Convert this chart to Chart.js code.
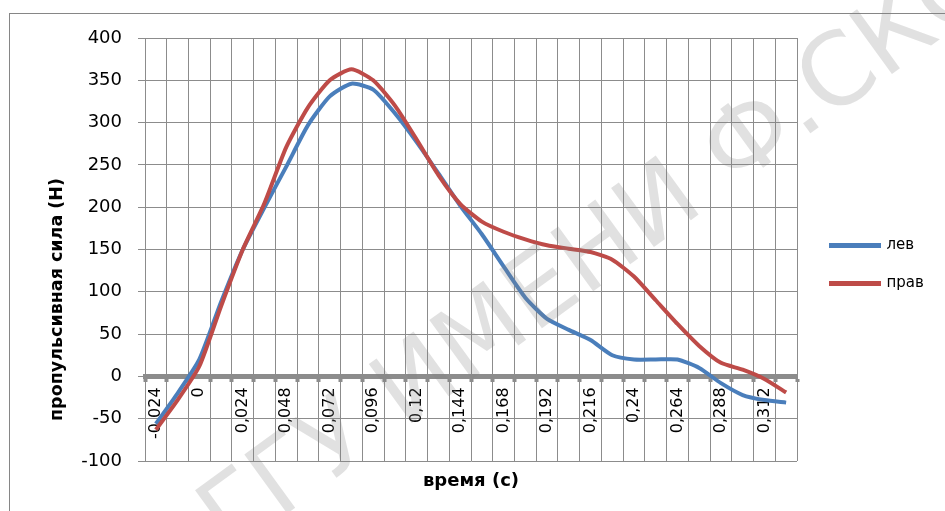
<!DOCTYPE html>
<html><head><meta charset="utf-8">
<script src="https://cdn.jsdelivr.net/npm/chart.js@4"></script>
<style>html,body{margin:0;padding:0;background:#fff}canvas{display:block}</style>
</head><body>
<canvas id="c" width="945" height="511"></canvas>
<script>
// ---- data ----
const categories = ["-0,024","-0,012","0","0,012","0,024","0,036","0,048","0,06","0,072","0,084",
  "0,096","0,108","0,12","0,132","0,144","0,156","0,168","0,18","0,192","0,204",
  "0,216","0,228","0,24","0,252","0,264","0,276","0,288","0,3","0,312","0,324"];
const levValues = [-56,-20,20,88,150,200,248,297,331,346,
  339,311,277,240,202,168,130,93,68,55,
  43,25,20,20,20,10,-8,-22,-28,-31];
const pravValues = [-63,-28,12,83,150,205,271,318,350,363,
  350,320,280,238,204,183,171,162,155,151,
  147,138,118,90,62,36,16,8,-3,-19];
const seriesNames = ["лев","прав"];
const yMin = -100, yMax = 400, yStep = 50;
const xTitle = "время (с)";
const yTitle = "пропульсивная сила (Н)";
const watermark = "ГГУ ИМЕНИ Ф.СКОРИНЫ";

const gridGray = '#8c8c8c';

const framePlugin = {
  id: 'frame',
  beforeDraw(chart) {
    const ctx = chart.ctx;
    ctx.save();
    ctx.fillStyle = '#fff';
    ctx.fillRect(0, 0, chart.width, chart.height);
    ctx.strokeStyle = '#868686';
    ctx.lineWidth = 1;
    ctx.strokeRect(9.5, 13.5, chart.width + 20, chart.height + 20);
    ctx.restore();
  }
};
const legendShift = {
  id: 'legendShift',
  afterLayout(chart) {
    const l = chart.legend;
    l.left += 11; l.right += 11;
    l.top += 15; l.bottom += 15;
  }
};
// y-axis title, placed a little below the plot centre as in the original
const yTitlePlugin = {
  id: 'yTitle',
  afterDraw(chart) {
    const ctx = chart.ctx;
    const ca = chart.chartArea;
    ctx.save();
    ctx.translate(57, (ca.top + ca.bottom) / 2 + 50);
    ctx.rotate(-Math.PI / 2);
    ctx.font = 'bold 17.5px "DejaVu Sans"';
    ctx.fillStyle = '#000';
    ctx.textAlign = 'center';
    ctx.textBaseline = 'middle';
    ctx.fillText(yTitle, 0, 0);
    ctx.restore();
  }
};
const watermarkPlugin = {
  id: 'wm',
  afterDraw(chart) {
    const ctx = chart.ctx;
    ctx.save();
    ctx.translate(230, 555);
    ctx.rotate(-36 * Math.PI / 180);
    ctx.font = '100px "DejaVu Sans"';
    ctx.fillStyle = 'rgba(128,128,128,0.24)';
    ctx.textBaseline = 'alphabetic';
    ctx.fillText(watermark, 0, 0);
    ctx.restore();
  }
};

new Chart(document.getElementById('c'), {
  type: 'line',
  data: {
    labels: categories,
    datasets: [
      { label: seriesNames[0], data: levValues, borderColor: '#4A7EBB', backgroundColor: '#4A7EBB',
        borderWidth: 4, pointRadius: 0, tension: 0.2, order: 1 },
      { label: seriesNames[1], data: pravValues, borderColor: '#BE4B48', backgroundColor: '#BE4B48',
        borderWidth: 4, pointRadius: 0, tension: 0.2, order: 0 }
    ]
  },
  options: {
    responsive: false,
    animation: false,
    devicePixelRatio: 1,
    layout: { padding: { top: 38, bottom: 50, left: 0, right: 28 } },
    plugins: {
      tooltip: { enabled: false },
      legend: {
        position: 'right',
        maxWidth: 120,
        labels: {
          boxWidth: 48, boxHeight: 1, padding: 23,
          color: '#000',
          font: { family: '"DejaVu Sans"', size: 15 },
          sort: (a, b) => a.datasetIndex - b.datasetIndex
        }
      }
    },
    scales: {
      x: {
        type: 'category',
        position: { y: 0 },
        offset: true,
        grid: { offset: true, color: gridGray, lineWidth: 1, tickLength: 3, tickWidth: 4, tickColor: gridGray },
        border: { color: gridGray, width: 5 },
        ticks: {
          autoSkip: false, minRotation: 90, maxRotation: 90, padding: 8, color: '#000',
          font: { family: '"DejaVu Sans"', size: 16 },
          callback: function(v, i) { return i % 2 === 0 ? categories[i] : ''; }
        },
        title: { display: true, text: xTitle, color: '#000',
          font: { family: '"DejaVu Sans"', size: 18, weight: 'bold' },
          padding: { top: 24, bottom: 0 } }
      },
      y: {
        min: yMin, max: yMax,
        ticks: { stepSize: yStep, padding: 16, color: '#000', font: { family: '"DejaVu Sans"', size: 18 } },
        grid: { color: gridGray, lineWidth: 1, tickLength: 7 },
        border: { color: gridGray, width: 1 },
        title: { display: false, text: yTitle },
        afterFit(scale) { scale.width = 145; }
      }
    }
  },
  plugins: [framePlugin, legendShift, yTitlePlugin, watermarkPlugin]
});
</script>
</body></html>
